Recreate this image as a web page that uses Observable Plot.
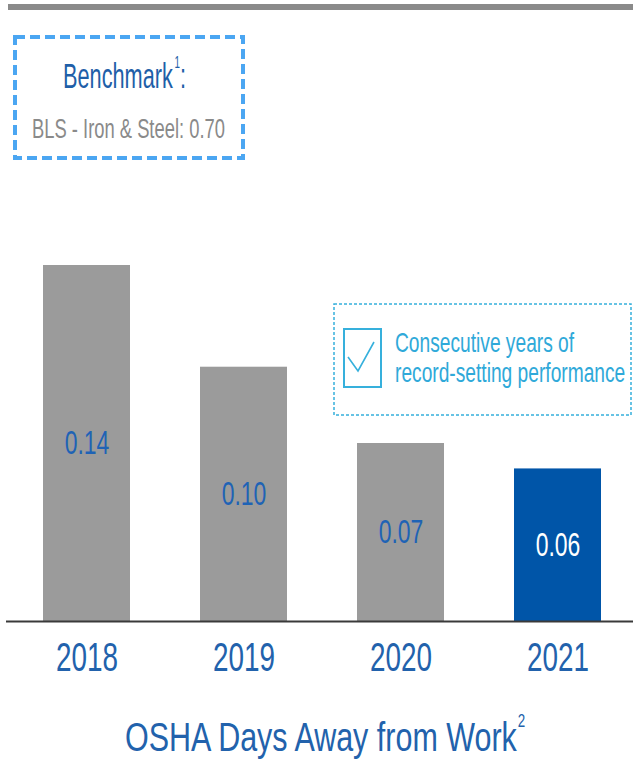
<!DOCTYPE html>
<html>
<head>
<meta charset="utf-8">
<script src="https://cdn.jsdelivr.net/npm/d3@7"></script>
<script src="https://cdn.jsdelivr.net/npm/@observablehq/plot@0.6"></script>
<style>
  html, body { margin: 0; padding: 0; background: #fff; }
  body { width: 633px; height: 770px; overflow: hidden; position: relative;
         font-family: "Liberation Sans", Arial, sans-serif; }
  #topline { position: absolute; left: 8px; top: 4px; width: 625px; height: 6px; background: #8a8a8a; }
  #chart { position: absolute; left: 0; top: 0; }
  #overlay { position: absolute; left: 0; top: 0; pointer-events: none; }
  #title { position: absolute; left: 125px; top: 722px; font-size: 36.5px; line-height: 36px; color: #2262ac;
           white-space: nowrap; display: inline-block; transform: scale(0.835, 1.1); transform-origin: 0 100%; }
  #title sup { font-size: 16px; vertical-align: 0; position: relative; top: -22px; margin-left: 1px; }
</style>
</head>
<body>
<div id="topline"></div>
<div id="chart"></div>
<svg id="overlay" width="633" height="720" font-family="Liberation Sans, Arial, sans-serif">
  <!-- Benchmark box -->
  <rect x="15" y="37" width="228" height="121" fill="none" stroke="#4ba6f2" stroke-width="4" stroke-dasharray="10 5"/>
  <text transform="translate(63,88) scale(0.82,1.32)" font-size="26.5" fill="#1f5fa8">Benchmark<tspan font-size="12" dy="-15" dx="2">1</tspan><tspan dy="15">:</tspan></text>
  <text transform="translate(32,138) scale(0.82,1.2)" font-size="22.4" fill="#8a8a8a">BLS - Iron &amp; Steel: 0.70</text>
  <!-- Callout box -->
  <rect x="334" y="304" width="297" height="111" fill="none" stroke="#36b0dc" stroke-width="1.5" stroke-dasharray="3 2"/>
  <rect x="344" y="329" width="37" height="58" fill="none" stroke="#36b0dc" stroke-width="2"/>
  <polyline points="348,357 358,371 374,342" fill="none" stroke="#36b0dc" stroke-width="1.6"/>
  <text transform="translate(395,352) scale(0.82,1.15)" font-size="23.4" fill="#2fa9d9">Consecutive years of</text>
  <text transform="translate(395,382) scale(0.82,1.15)" font-size="23.4" fill="#2fa9d9">record-setting performance</text>
</svg>
<div id="title">OSHA Days Away from Work<sup>2</sup></div>
<script>
// ---- data ----
const years = ["2018", "2019", "2020", "2021"];
const values = [0.14, 0.10, 0.07, 0.06];
const highlightYear = "2021";

const data = years.map((year, i) => ({year, value: values[i]}));

const blue = "#2262ac";
const chart = Plot.plot({
  width: 633,
  height: 700,
  marginLeft: 6,
  marginRight: 0,
  marginTop: 0,
  marginBottom: 79,
  style: {fontFamily: "Liberation Sans, Arial, sans-serif", background: "transparent", overflow: "visible"},
  x: {domain: years, range: [7, 636], paddingInner: 0.447, paddingOuter: 0.2235, label: null},
  y: {domain: [0, 0.14], range: [621, 265], axis: null},
  marks: [
    Plot.barY(data, {x: "year", y: "value", fill: d => d.year === highlightYear ? "#0055a8" : "#9b9b9b"}),
    Plot.text(data, {x: "year", y: d => d.value / 2, text: d => d.value.toFixed(2), fontSize: 28,
      fill: d => d.year === highlightYear ? "#ffffff" : "#1f63b5"}),
    Plot.ruleY([0], {stroke: "#3a3a3a", strokeWidth: 2}),
    Plot.axisX({tickSize: 0, tickPadding: 21, fontSize: 34, color: blue, label: null})
  ]
});
document.getElementById("chart").appendChild(chart);
// condensed, tall lettering as in the reference
chart.querySelectorAll("text").forEach(t => {
  const tr = t.getAttribute("transform");
  if (tr && tr.includes("translate")) t.setAttribute("transform", tr + " scale(0.82,1.2)");
});
</script>
</body>
</html>
